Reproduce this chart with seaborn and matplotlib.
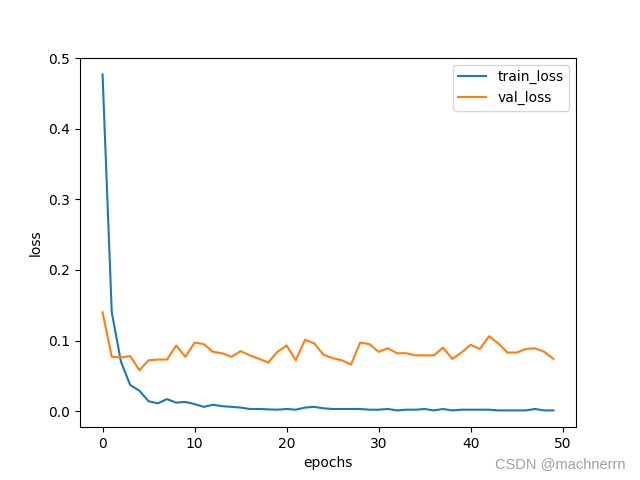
import matplotlib
matplotlib.use("Agg")
import matplotlib.pyplot as plt
import seaborn as sns
import numpy as np
import pandas as pd

epochs = list(range(50))
train_loss = [0.477, 0.140, 0.070, 0.037, 0.029, 0.014, 0.011, 0.017, 0.012, 0.013,
              0.010, 0.006, 0.009, 0.007, 0.006, 0.005, 0.003, 0.003, 0.0025, 0.002,
              0.003, 0.002, 0.005, 0.006, 0.004, 0.003, 0.003, 0.003, 0.003, 0.002,
              0.002, 0.003, 0.001, 0.002, 0.002, 0.003, 0.001, 0.003, 0.001, 0.002,
              0.002, 0.002, 0.002, 0.001, 0.001, 0.001, 0.001, 0.003, 0.001, 0.001]
val_loss = [0.140, 0.077, 0.076, 0.078, 0.058, 0.072, 0.073, 0.073, 0.093, 0.077,
            0.097, 0.095, 0.084, 0.082, 0.077, 0.085, 0.079, 0.074, 0.069, 0.084,
            0.093, 0.072, 0.101, 0.096, 0.080, 0.075, 0.072, 0.066, 0.097, 0.095,
            0.084, 0.089, 0.082, 0.082, 0.079, 0.079, 0.079, 0.090, 0.074, 0.083,
            0.094, 0.088, 0.106, 0.096, 0.083, 0.083, 0.088, 0.089, 0.084, 0.074]

plt.rcdefaults()
fig, ax = plt.subplots(figsize=(6.4, 4.8), dpi=100)
sns.lineplot(x=epochs, y=train_loss, ax=ax, label="train_loss", color="#1f77b4", linewidth=1.5)
sns.lineplot(x=epochs, y=val_loss, ax=ax, label="val_loss", color="#ff7f0e", linewidth=1.5)
ax.set_xlabel("epochs")
ax.set_ylabel("loss")
ax.set_yticks([0.0, 0.1, 0.2, 0.3, 0.4, 0.5])
ax.set_xticks([0, 10, 20, 30, 40, 50])
ax.legend(loc="upper right")
fig.text(0.977, 0.018, "CSDN @machnerrn", ha="right", va="bottom", color="#a0a0a0",
         fontsize=10.5, family=["Liberation Sans", "DejaVu Sans"])
fig.savefig("out.png", dpi=100)
